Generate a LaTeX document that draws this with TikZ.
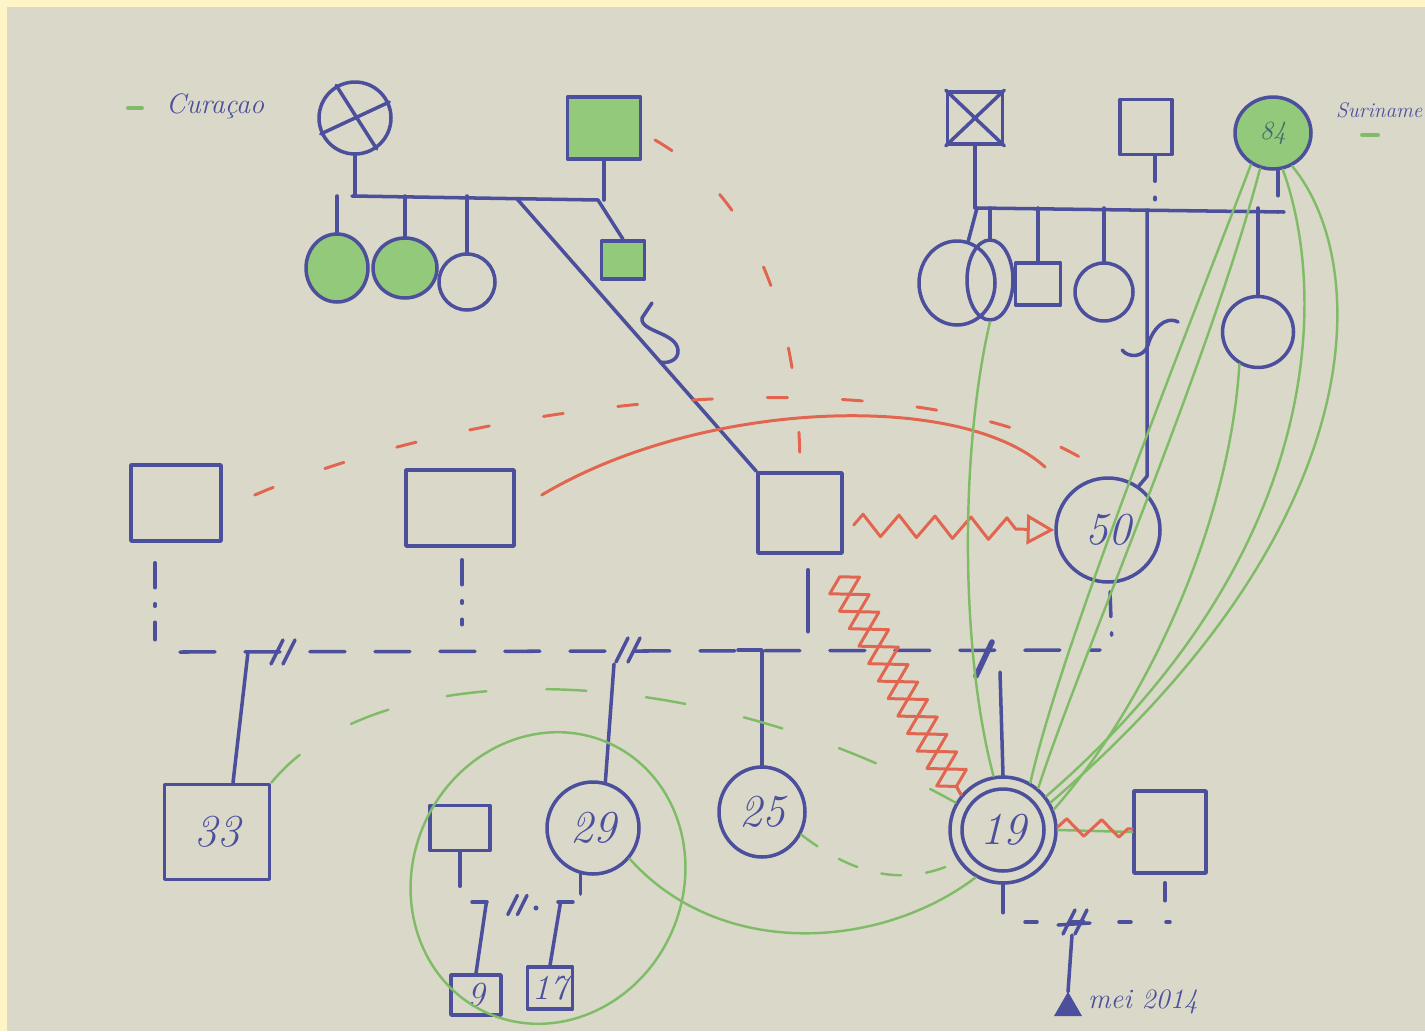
\documentclass[tikz,border=0pt]{standalone}
\usepackage{fontspec}
\usepackage{tikz}
\usetikzlibrary{positioning, calc, arrows.meta, shapes.geometric, decorations.pathmorphing}

\definecolor{paper}{HTML}{DAD9C9}
\definecolor{framecol}{HTML}{FFF4C6}
\definecolor{inkblue}{HTML}{4B4F9C}
\definecolor{redink}{HTML}{E2664F}
\definecolor{greenink}{HTML}{80BC68}
\definecolor{greenfill}{HTML}{93C97A}
\definecolor{tealink}{HTML}{3F6E66}

\tikzset{
  pen/.style={draw=inkblue, line width=2pt, line cap=round, line join=round},
  maleshape/.style={pen, rectangle, inner sep=0pt},
  femaleshape/.style={pen, circle, inner sep=0pt},
  ovalshape/.style={pen, ellipse, inner sep=0pt},
  age/.style={text=inkblue, font=\fontsize{26}{30}\selectfont\itshape},
  smallage/.style={text=inkblue, font=\fontsize{20}{24}\selectfont\itshape},
  placename/.style={text=inkblue, font=\fontsize{16}{20}\selectfont\itshape},
  redpen/.style={draw=redink, line width=1.7pt, line cap=round, line join=round},
  greenpen/.style={draw=greenink, line width=1.4pt, line cap=round},
  ddline/.style={dash pattern=on 0.5cm off 0.32cm on 0.05cm off 0.32cm},
  sibdash/.style={dash pattern=on 0.7cm off 0.6cm},
  divorce/.pic={\draw[pen] (-9,12) -- (3,-12) (3,12) -- (15,-12);}
}

\begin{document}
\begin{tikzpicture}[x=0.02cm, y=-0.02cm]

% --- Foglio
\fill[framecol] (0,0) rectangle (1425,1031);
\fill[paper] (7,7) rectangle (1425,1031);
\useasboundingbox (0,0) rectangle (1425,1031);

% --- Legenda
\draw[greenpen, line width=2.2pt] (128,108) -- (142,108);
\node[placename, anchor=west] (curacao) at (160,106) {Curaçao};
\node[placename, anchor=west, font=\fontsize{12}{14}\selectfont\itshape] (suriname) at (1330,110) {Suriname};
\draw[greenpen, line width=2.2pt] (1362,135) -- (1378,135);

% ================== Nonni (Curaçao) ==================
\node[femaleshape, minimum size=1.44cm] (gmL) at (355,118) {};
\draw[pen] (gmL.120) -- (gmL.-55) (gmL.25) -- (gmL.205);
\node[maleshape, fill=greenfill, minimum width=1.46cm, minimum height=1.24cm] (gfL) at (604,128) {};
\coordinate (sibLa) at (352,196);
\coordinate (sibLb) at (598,200);
\draw[pen] (sibLa) -- (sibLb);
\draw[pen] (gmL.south) -- (gmL.south |- sibLa);
\draw[pen] (gfL.south) -- (gfL.south |- sibLb);

% figli
\node[ovalshape, fill=greenfill, minimum width=1.24cm, minimum height=1.36cm] (cL1) at (337,268) {};
\node[ovalshape, fill=greenfill, minimum width=1.28cm, minimum height=1.2cm] (cL2) at (405,268) {};
\node[femaleshape, minimum size=1.12cm] (cL3) at (467,282) {};
\node[maleshape, fill=greenfill, minimum width=0.86cm, minimum height=0.76cm] (sL4) at (623,260) {};
\foreach \n in {cL1,cL2,cL3}
  \draw[pen] (\n.north |- sibLa) -- (\n.north);
\draw[pen] (sibLb) -- (sL4.north);

% ================== Nonni (Suriname) ==================
\node[maleshape, minimum width=1.1cm, minimum height=1.04cm] (gfR) at (975,118) {};
\draw[pen] (gfR.north west) -- (gfR.south east) (gfR.north east) -- (gfR.south west);
\node[maleshape, minimum width=1.04cm, minimum height=1.1cm] (gmR) at (1146,127) {};
\node[ovalshape, fill=greenfill, minimum width=1.52cm, minimum height=1.44cm,
      text=tealink, font=\fontsize{15}{18}\selectfont\itshape] (g84) at (1273,133) {84};
\coordinate (sibRa) at (977,208);
\coordinate (sibRb) at (1284,212);
\coordinate (sibRc) at (1147,210);
\draw[pen] (sibRa) -- (sibRb);
\draw[pen] (gfR.south) -- (gfR.south |- sibRa);
\draw[pen, ddline] ([xshift=0.18cm]gmR.south) -- ([xshift=0.18cm]gmR.south |- sibRa);
\draw[pen, ddline] ([xshift=0.1cm]g84.south) -- ([xshift=0.1cm]g84.south |- sibRb);

% figli
\node[ovalshape, minimum width=1.52cm, minimum height=1.68cm] (cR1) at (957,283) {};
\node[ovalshape, minimum width=0.92cm, minimum height=1.6cm] (cR2) at (990,280) {};
\node[maleshape, minimum width=0.9cm, minimum height=0.84cm] (sR3) at (1038,284) {};
\node[femaleshape, minimum size=1.16cm] (cR4) at (1104,292) {};
\node[femaleshape, minimum size=1.42cm] (cR6) at (1258,332) {};
\draw[pen] (sibRa) -- (cR1.75);
\foreach \n in {cR2,sR3,cR4,cR6}
  \draw[pen] (\n.north |- sibRa) -- (\n.north);

% ================== Genitori ==================
\node[maleshape, minimum width=1.8cm, minimum height=1.52cm] (m1) at (176,503) {};
\node[maleshape, minimum width=2.16cm, minimum height=1.52cm] (m2) at (460,508) {};
\node[maleshape, minimum width=1.68cm, minimum height=1.6cm] (m3) at (800,513) {};
\node[femaleshape, minimum size=2.08cm, age] (p50) at (1108,530) {50};

% linee di discendenza
\coordinate (sibLc) at ($(sibLa)!0.67!(sibLb)$);
\draw[pen] (sibLc) -- (m3.north west);
\draw[pen] (652,303) -- (642,318) .. controls (640,332) and (676,332) .. (678,350)
           .. controls (679,360) and (668,364) .. (660,362);
\draw[pen] (sibRc) -- (sibRc |- p50.north) -- (p50.55);
\draw[pen] (1178,322) .. controls (1165,315) and (1152,330) .. (1148,345)
           .. controls (1144,358) and (1128,358) .. (1122,350);

% discesa verso la linea dei figli
\draw[pen, ddline] ($(m1.south)+(-21,20)$) -- ++(0,77);
\draw[pen, ddline] ($(m2.south)+(2,12)$) -- ++(0,65);
\draw[pen] ($(m3.south)+(8,15)$) -- ++(0,62);
\draw[pen, ddline] ($(p50.south)+(2,8)$) -- ++(2,55);

\coordinate (hlA) at (180,652);
\coordinate (hlB) at (1100,650);
\draw[pen, sibdash] (hlA) -- (hlB);
\pic at (280,652) {divorce};
\pic at (625,650) {divorce};
\draw[pen, line width=3.2pt] (976,676) -- (992,642);

% ================== Figli ==================
\node[maleshape, minimum width=2.1cm, minimum height=1.9cm, age] (s33) at (217,832) {33};
\node[femaleshape, minimum size=1.84cm, age] (c29) at (593,828) {29};
\node[ovalshape, minimum width=1.72cm, minimum height=1.8cm, age] (c25) at (762,812) {25};
\node[femaleshape, minimum size=2.12cm] (c19) at (1003,830) {};
\node[femaleshape, minimum size=1.64cm, age] (c19in) at (c19) {19};
\node[maleshape, minimum width=1.44cm, minimum height=1.64cm] (sP) at (1170,832) {};
\node[maleshape, minimum width=1.2cm, minimum height=0.9cm] (sQ) at (460,828) {};

\coordinate (d33) at (248,652);
\coordinate (d29) at (614,664);
\coordinate (d25) at (738,650);
\coordinate (d19) at (1000,672);
\draw[pen] (d33) -- ($(s33.north)+(16,0)$);
\draw[pen] (d29) -- (c29.75);
\draw[pen] (d25) -| (c25.north);
\draw[pen] (d19) -- (c19.north);

% nipoti
\draw[pen] (sQ.south) -- ++(0,34);
\draw[pen] (c29.255) -- ++(0,20);
\coordinate (kA) at (472,902);
\coordinate (kB) at (575,902);
\draw[pen, dash pattern=on 0.3cm off 1.42cm] (kA) -- (kB);
\pic[scale=0.8] at (515,905) {divorce};
\fill[inkblue] (536,908) circle (2.5);
\node[maleshape, minimum width=1.0cm, minimum height=0.8cm, smallage] (k9) at (476,995) {9};
\node[maleshape, minimum width=0.9cm, minimum height=0.84cm, smallage] (k17) at (550,988) {17};
\draw[pen] ($(kA)!0.14!(kB)$) -- (k9.north);
\draw[pen] ($(kA)!0.86!(kB)$) -- (k17.north);

% figlio atteso
\draw[pen] (c19.south) -- ++(0,28);
\draw[pen] ($(sP.south)+(-5,8)$) -- ++(0,18);
\draw[pen, dash pattern=on 0.24cm off 0.7cm] (1025,922) -- (1170,922);
\coordinate (hash) at (1072,935);
\pic at (1072,922) {divorce};
\draw[pen] (1058,925) -- (1090,923);
\node[regular polygon, regular polygon sides=3, fill=inkblue, draw=inkblue,
      minimum size=0.62cm, inner sep=0pt] (baby) at (1068,1008) {};
\draw[pen] (hash) -- (baby.north);
\node[placename, anchor=west] (mei) at (1082,1002) {mei 2014};

% ================== Relazioni rosse ==================
\draw[redpen, dash pattern=on 0.4cm off 1.1cm]
  ($(m1.east)+(32,-8)$) .. controls (500,390) and (950,350) .. (p50.north);
\draw[redpen, dash pattern=on 0.4cm off 1.3cm]
  (655,140) .. controls (760,200) and (800,330) .. (m3.north);
\draw[redpen] ($(m2.east)+(26,-13)$) .. controls (700,400) and (960,390) .. ($(p50.135)+(-25,-25)$);
\draw[redpen, decorate, decoration={zigzag, segment length=0.72cm, amplitude=0.22cm, post length=0.5cm},
      -{Triangle[open, length=0.55cm, width=0.6cm]}] ($(m3.east)+(10,12)$) -- (p50.west);
\foreach \amp in {0.34cm,-0.34cm}
  \draw[redpen, decorate, decoration={zigzag, segment length=0.8cm, amplitude=\amp}]
    ($(m3.south east)+(-4,22)$) -- (c19.140);
\draw[greenpen] (c19.east) -- (sP.west);
\draw[redpen, decorate, decoration={zigzag, segment length=0.7cm, amplitude=0.17cm}]
  ([yshift=0.06cm]c19.east) -- ([yshift=0.06cm]sP.west);

% ================== Relazioni verdi ==================
\draw[greenpen] (g84.235) .. controls (1180,350) and (1060,650) .. (c19.60);
\draw[greenpen] (g84.250) .. controls (1210,360) and (1080,660) .. (c19.50);
\draw[greenpen] (g84.-60) .. controls (1370,260) and (1380,520) .. (c19.30);
\draw[greenpen] (g84.-75) .. controls (1330,300) and (1320,560) .. (c19.38);
\draw[greenpen] (cR6.240) .. controls (1230,520) and (1150,700) .. (c19.22);
\draw[greenpen] (cR2.south) .. controls (960,450) and (960,650) .. (c19.100);
\draw[greenpen, dash pattern=on 0.8cm off 1.2cm]
  (s33.north east) .. controls (380,650) and (700,660) .. (c19.150);
\draw[greenpen, dash pattern=on 0.4cm off 0.5cm]
  (c25.-30) .. controls (860,880) and (910,885) .. (c19.215);
\draw[greenpen] (c29.-40) .. controls (720,960) and (880,950) .. (c19.240);
\draw[greenpen, rotate around={-25:(548,878)}] (548,878) ellipse [x radius=135, y radius=148];

\end{tikzpicture}
\end{document}
